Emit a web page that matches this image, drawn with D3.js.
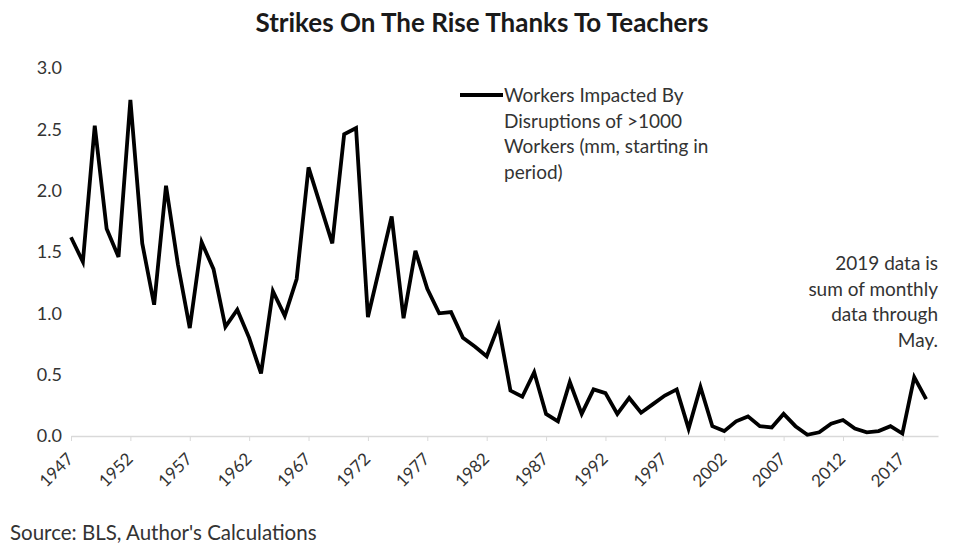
<!DOCTYPE html>
<html>
<head>
<meta charset="utf-8">
<script src="https://cdn.jsdelivr.net/npm/d3@7"></script>
<style>
  body { margin: 0; background: #fff; }
  svg { display: block; font-family: Lato, "Open Sans", sans-serif; }
</style>
</head>
<body>
<div id="chart"></div>
<script>
const width = 960,
  height = 558;

// Data
const years = d3.range(1947, 2020);
const workers = [
  1.62, 1.42, 2.53, 1.69, 1.46, 2.74, 1.57, 1.07, 2.04, 1.40,
  0.88, 1.58, 1.36, 0.89, 1.03, 0.80, 0.51, 1.18, 0.98, 1.28,
  2.19, 1.88, 1.57, 2.46, 2.51, 0.97, 1.38, 1.79, 0.96, 1.51,
  1.20, 1.00, 1.01, 0.80, 0.73, 0.65, 0.90, 0.37, 0.32, 0.52,
  0.18, 0.12, 0.44, 0.18, 0.38, 0.35, 0.18, 0.31, 0.19, 0.26,
  0.33, 0.38, 0.06, 0.40, 0.08, 0.04, 0.12, 0.16, 0.08, 0.07,
  0.18, 0.08, 0.01, 0.03, 0.10, 0.13, 0.06, 0.03, 0.04, 0.08,
  0.02, 0.48, 0.30
];
const yTicks = [0, 0.5, 1.0, 1.5, 2.0, 2.5, 3.0];
const xTickYears = d3.range(1947, 2020, 5);
const legendLines = [
  "Workers Impacted By",
  "Disruptions of >1000",
  "Workers (mm, starting in",
  "period)"
];
const noteLines = ["2019 data is", "sum of monthly", "data through", "May."];

const svg = d3
  .select("#chart")
  .append("svg")
  .attr("width", width)
  .attr("height", height);

const xScale = d3.scaleLinear().domain([1947, 2020]).range([71, 938]);
const yScale = d3.scaleLinear().domain([0, 3]).range([436, 68]);

// Title
svg
  .append("text")
  .attr("x", 482)
  .attr("y", 32)
  .attr("text-anchor", "middle")
  .attr("font-weight", "bold")
  .attr("font-size", 26)
  .attr("fill", "#1a1a1a")
  .text("Strikes On The Rise Thanks To Teachers");

// Y axis (labels only)
const yAxis = d3
  .axisLeft(yScale)
  .tickValues(yTicks)
  .tickFormat(d3.format(".1f"))
  .tickSize(0)
  .tickPadding(0);

const yg = svg
  .append("g")
  .attr("transform", "translate(62,0)")
  .call(yAxis);
yg.select(".domain").remove();
yg.selectAll("text")
  .attr("font-size", 18)
  .attr("font-family", "Lato, sans-serif")
  .attr("fill", "#333");

// X axis
const xAxis = d3
  .axisBottom(xScale)
  .tickValues(xTickYears)
  .tickFormat(d3.format("d"))
  .tickSize(5)
  .tickSizeOuter(0);

const xg = svg
  .append("g")
  .attr("transform", `translate(0, ${yScale(0)})`)
  .call(xAxis);
xg.select(".domain").attr("stroke", "#d9d9d9").attr("stroke-width", 1.5);
xg.selectAll(".tick line").attr("stroke", "#d9d9d9");
xg.selectAll("text")
  .attr("font-size", 17)
  .attr("font-family", "Lato, sans-serif")
  .attr("fill", "#333")
  .attr("text-anchor", "end")
  .attr("dy", null)
  .attr("y", 0)
  .attr("transform", "translate(3,24) rotate(-45)");

// Line
const line = d3
  .line()
  .x((d, i) => xScale(years[i]))
  .y((d) => yScale(d));

svg
  .append("path")
  .datum(workers)
  .attr("d", line)
  .attr("fill", "none")
  .attr("stroke", "#000")
  .attr("stroke-width", 3.8)
  .attr("stroke-linejoin", "miter")
  .attr("stroke-miterlimit", 4);

// Legend
svg
  .append("line")
  .attr("x1", 460)
  .attr("x2", 503)
  .attr("y1", 95)
  .attr("y2", 95)
  .attr("stroke", "#000")
  .attr("stroke-width", 3.8);

svg
  .append("g")
  .selectAll("text")
  .data(legendLines)
  .join("text")
  .attr("x", 504)
  .attr("y", (d, i) => 102 + i * 25.7)
  .attr("font-size", 19)
  .attr("fill", "#333")
  .text((d) => d);

// Note
svg
  .append("g")
  .selectAll("text")
  .data(noteLines)
  .join("text")
  .attr("x", 938)
  .attr("y", (d, i) => 270 + i * 25.7)
  .attr("text-anchor", "end")
  .attr("font-size", 19)
  .attr("fill", "#333")
  .text((d) => d);

// Source
svg
  .append("text")
  .attr("x", 10)
  .attr("y", 540)
  .attr("font-size", 20.5)
  .attr("fill", "#333")
  .text("Source: BLS, Author's Calculations");
</script>
</body>
</html>
